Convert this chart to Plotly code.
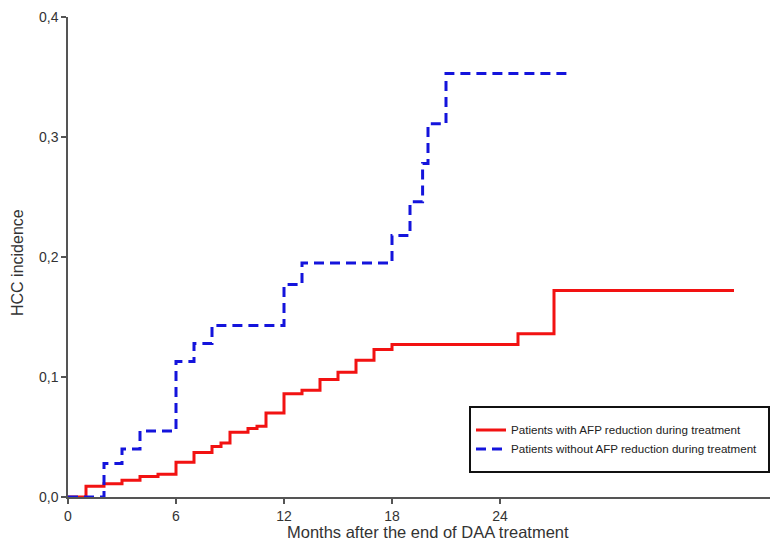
import plotly.graph_objects as go

# Data (cumulative HCC incidence, step functions)
red_months = [0, 1, 2, 3, 4, 5, 6, 7, 8, 8.5, 9, 10, 10.5, 11, 12, 13, 14, 15, 16, 17, 18, 25, 27, 37]
red_incidence = [0, 0.009, 0.011, 0.014, 0.017, 0.019, 0.029, 0.037, 0.042, 0.045, 0.054, 0.057,
                 0.059, 0.070, 0.086, 0.089, 0.098, 0.104, 0.114, 0.123, 0.127, 0.136, 0.172, 0.172]

blue_months = [0, 2, 3, 4, 6, 7, 8, 12, 13, 18, 19, 19.7, 20, 21, 28]
blue_incidence = [0, 0.028, 0.040, 0.055, 0.113, 0.128, 0.143, 0.177, 0.195, 0.218, 0.246,
                  0.278, 0.311, 0.353, 0.353]

red_name = "Patients with AFP reduction during treatment"
blue_name = "Patients without AFP reduction during treatment"
x_title = "Months after the end of DAA treatment"
y_title = "HCC incidence"

x_ticks = [0, 6, 12, 18, 24]
y_ticks = [0.0, 0.1, 0.2, 0.3, 0.4]

fig = go.Figure()
fig.add_trace(go.Scatter(
    x=red_months, y=red_incidence, mode="lines", line_shape="hv",
    line=dict(color="#f21212", width=3), name=red_name))
fig.add_trace(go.Scatter(
    x=blue_months, y=blue_incidence, mode="lines", line_shape="hv",
    line=dict(color="#1414dc", width=3, dash="10px,6px"), name=blue_name))

font_family = "Liberation Sans, Arial, sans-serif"

# page body has an 8px margin; figure is sized to fit the 779x545 window
OFF = 8
W, H = 779 - OFF, 545 - OFF
L, R, T, B = 68 - OFF, 9, 17 - OFF, 48
pw, ph = W - L - R, H - T - B


def px_x(xp):
    return (xp - 68) / pw


def px_y(yp):
    return (497 - yp) / ph


fig.update_layout(
    width=W, height=H,
    margin=dict(l=L, r=R, t=T, b=B, autoexpand=False),
    paper_bgcolor="white", plot_bgcolor="white",
    separators=",.",
    font=dict(family=font_family, color="#333333"),
    showlegend=True,
    legend=dict(
        x=px_x(471), y=0.170, xanchor="left", yanchor="top",
        bgcolor="rgba(0,0,0,0)", borderwidth=0,
        font=dict(size=11.6, color="#222222"),
        itemwidth=30, tracegroupgap=0,
    ),
    shapes=[dict(
        type="rect", xref="paper", yref="paper",
        x0=px_x(470), x1=px_x(769), y0=px_y(472), y1=px_y(407),
        line=dict(color="#111111", width=2), fillcolor="rgba(0,0,0,0)",
    )],
    annotations=[
        dict(text=x_title, xref="paper", yref="paper", x=px_x(428), y=px_y(522),
             xanchor="center", yanchor="top", showarrow=False, borderpad=0,
             font=dict(size=16.5, color="#333333")),
        dict(text=y_title, xref="paper", yref="paper", x=px_x(18), y=px_y(263),
             xanchor="center", yanchor="middle", showarrow=False, textangle=-90,
             font=dict(size=16, color="#333333")),
    ],
)

fig.update_xaxes(
    range=[0, 39], tickvals=x_ticks, ticktext=[str(v) for v in x_ticks],
    automargin=False,
    showgrid=False, zeroline=False, showline=True, linecolor="#555555", linewidth=1.5,
    ticks="outside", ticklen=5, tickcolor="#555555", tickwidth=1.5,
    tickfont=dict(size=14, color="#333333"),
)
fig.update_yaxes(
    range=[0, 0.4], tickvals=y_ticks, tickformat=".1f",
    automargin=False,
    showgrid=False, zeroline=False, showline=True, linecolor="#555555", linewidth=1.5,
    ticks="outside", ticklen=5, tickcolor="#555555", tickwidth=1.5,
    tickfont=dict(size=14, color="#333333"),
)

fig.write_html("out.html")
